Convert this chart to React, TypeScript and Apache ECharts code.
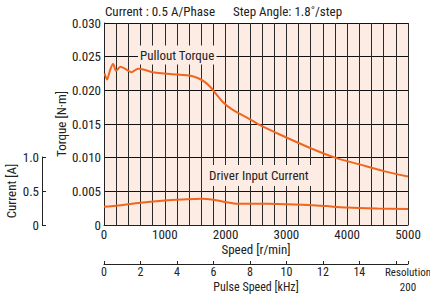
import React, { useEffect, useRef } from "react";
import * as echarts from "echarts";

// Pullout torque [r/min, N·m]
const torqueSpeed = [10, 50, 100, 150, 200, 270, 350, 450, 560, 650, 800, 1000, 1250, 1400, 1550, 1650, 1750, 1850, 1950, 2100, 2400, 2550, 2900, 3400, 3800, 4200, 4600, 5000];
const torqueValue = [0.0225, 0.0216, 0.0230, 0.0239, 0.0229, 0.0235, 0.0232, 0.0227, 0.0232, 0.0231, 0.0227, 0.0225, 0.0223, 0.0222, 0.0218, 0.0213, 0.0205, 0.0194, 0.0183, 0.0172, 0.0157, 0.0149, 0.0134, 0.0114, 0.0100, 0.0090, 0.0080, 0.0072];

// Driver input current [r/min, A]
const currentSpeed = [0, 200, 600, 1000, 1300, 1600, 1800, 2000, 2200, 2700, 3000, 3500, 4000, 4500, 5000];
const currentValue = [0.27, 0.285, 0.33, 0.365, 0.38, 0.39, 0.375, 0.34, 0.315, 0.315, 0.31, 0.29, 0.26, 0.245, 0.236];

const speedTicks = { min: 0, max: 5000, grid: 200, label: 1000 };
const torqueTicks = { min: 0, max: 0.03, step: 0.005 };
const currentTicks = { min: 0, max: 1, step: 0.5 };
const pulseTicks = { min: 0, max: 5000 / 300, step: 2, lastLabel: 14 };

const FONT = "'Liberation Sans Narrow', 'Roboto Condensed', Roboto, 'Liberation Sans', Arial, sans-serif";
const TXT = "#222";
const ORANGE = "#f0661e";
const PINK = "#fdece3";

export default function App() {
  const ref = useRef<HTMLDivElement>(null);
  useEffect(() => {
    if (!ref.current) return;
    const chart = echarts.init(ref.current, undefined, { renderer: "svg" });
    const option: any = {
      animation: false,
      backgroundColor: "#ffffff",
      textStyle: { fontFamily: FONT, color: TXT },
      grid: [
        { left: 104, top: 23, width: 304, height: 202, show: true, backgroundColor: PINK, borderWidth: 0, outerBoundsMode: "none", containLabel: false },
        { left: 42, top: 157, width: 10, height: 68, show: false, outerBoundsMode: "none", containLabel: false },
      ],
      xAxis: [
        {
          gridIndex: 0, type: "value", min: speedTicks.min, max: speedTicks.max, interval: speedTicks.grid,
          axisLine: { show: true, onZero: false, lineStyle: { color: "#222", width: 1 } },
          axisTick: { show: false },
          axisLabel: {
            formatter: (v: number) => (v % speedTicks.label === 0 ? String(v) : ""),
            margin: 3, color: TXT, fontSize: 13, lineHeight: 13, fontFamily: FONT,
          },
          splitLine: { show: true, lineStyle: { color: "#2a2a2a", width: 1 } },
          name: "Speed [r/min]", nameLocation: "middle", nameGap: 18, nameMoveOverlap: false,
          nameTextStyle: { color: TXT, fontSize: 13, lineHeight: 13, fontFamily: FONT },
        },
        {
          gridIndex: 0, type: "value", position: "bottom", offset: 39,
          min: pulseTicks.min, max: pulseTicks.max, interval: pulseTicks.step,
          axisLine: { show: true, onZero: false, lineStyle: { color: "#222", width: 1 } },
          axisTick: { show: true, inside: true, length: 3, lineStyle: { color: "#222" } },
          axisLabel: {
            formatter: (v: number) => (v <= pulseTicks.lastLabel + 0.001 ? String(Math.round(v)) : ""),
            margin: 2, color: TXT, fontSize: 12, lineHeight: 12, fontFamily: FONT,
          },
          splitLine: { show: false },
          name: "Pulse Speed [kHz]", nameLocation: "middle", nameGap: 17, nameMoveOverlap: false,
          nameTextStyle: { color: TXT, fontSize: 12, lineHeight: 12, fontFamily: FONT },
        },
        { gridIndex: 1, type: "value", show: false, min: 0, max: 1 },
      ],
      yAxis: [
        {
          gridIndex: 0, type: "value", min: torqueTicks.min, max: torqueTicks.max, interval: torqueTicks.step,
          axisLine: { show: true, onZero: false, lineStyle: { color: "#222", width: 1 } },
          axisTick: { show: false },
          axisLabel: {
            formatter: (v: number) => (v === 0 ? "0" : v.toFixed(3)),
            margin: 3, color: TXT, fontSize: 13, fontFamily: FONT,
          },
          splitLine: { show: true, lineStyle: { color: "#111", width: 1 } },
          name: "Torque [N·m]", nameLocation: "middle", nameGap: 36, nameMoveOverlap: false,
          nameTextStyle: { color: TXT, fontSize: 13, fontFamily: FONT },
        },
        {
          gridIndex: 1, type: "value", min: currentTicks.min, max: currentTicks.max, interval: currentTicks.step,
          axisLine: { show: true, lineStyle: { color: "#222", width: 1 } },
          axisTick: { show: true, inside: true, length: 4, lineStyle: { color: "#222" } },
          axisLabel: {
            formatter: (v: number) => (v === 0 ? "0" : v.toFixed(1)),
            margin: 3, color: TXT, fontSize: 13, fontFamily: FONT,
          },
          splitLine: { show: false },
          name: "Current [A]", nameLocation: "middle", nameGap: 24, nameMoveOverlap: false,
          nameTextStyle: { color: TXT, fontSize: 13, fontFamily: FONT },
        },
        { gridIndex: 0, type: "value", show: false, min: 0, max: 3 },
      ],
      series: [
        {
          type: "line", xAxisIndex: 0, yAxisIndex: 0, smooth: 0.3, symbol: "none",
          lineStyle: { color: ORANGE, width: 2 },
          data: torqueSpeed.map((s, i) => [s, torqueValue[i]]),
          z: 5,
        },
        {
          type: "line", xAxisIndex: 0, yAxisIndex: 2, smooth: 0.3, symbol: "none",
          lineStyle: { color: ORANGE, width: 2 },
          data: currentSpeed.map((s, i) => [s, currentValue[i]]),
          z: 5,
        },
      ],
      graphic: [
        { type: "text", x: 105, y: 11, style: { text: "Current : 0.5 A/Phase", font: `13px ${FONT}`, fill: TXT, textVerticalAlign: "middle", verticalAlign: "middle" } },
        { type: "text", x: 233, y: 11, style: { text: "Step Angle: 1.8˚/step", font: `13px ${FONT}`, fill: TXT, textVerticalAlign: "middle", verticalAlign: "middle" } },
        {
          type: "text", x: 138, y: 55, z: 10,
          style: { text: "Pullout Torque", font: `13px ${FONT}`, fill: TXT, backgroundColor: PINK, padding: [3, 2, 3, 2], textVerticalAlign: "middle", verticalAlign: "middle" },
        },
        {
          type: "text", x: 206, y: 175.5, z: 10,
          style: { text: "Driver Input Current", font: `13px ${FONT}`, fill: TXT, backgroundColor: PINK, padding: [4, 3, 4, 3], textVerticalAlign: "middle", verticalAlign: "middle" },
        },
        { type: "text", x: 408, y: 272, style: { text: "Resolution", font: `11px ${FONT}`, fill: TXT, textAlign: "center", align: "center", textVerticalAlign: "middle", verticalAlign: "middle" } },
        { type: "text", x: 408, y: 287, style: { text: "200", font: `11px ${FONT}`, fill: TXT, textAlign: "center", align: "center", textVerticalAlign: "middle", verticalAlign: "middle" } },
      ],
    };
    chart.setOption(option);
    return () => chart.dispose();
  }, []);
  return <div ref={ref} style={{ width: 430, height: 296, position: "absolute", left: 0, top: 0 }} />;
}
